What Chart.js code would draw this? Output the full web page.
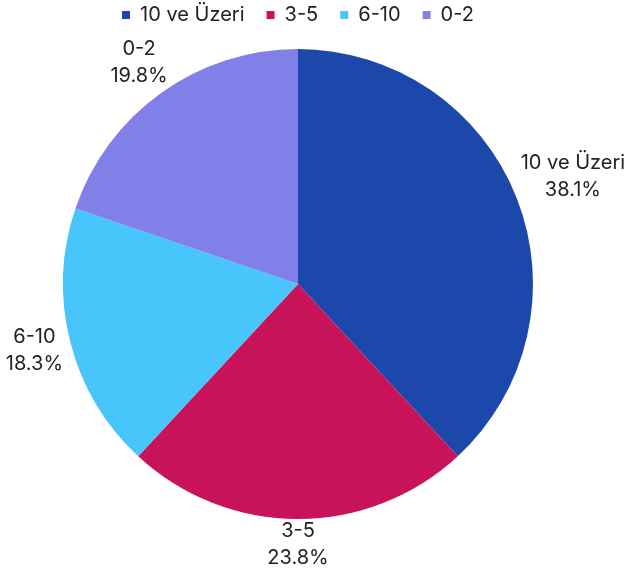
<!DOCTYPE html>
<html>
<head>
<meta charset="utf-8">
<script src="https://cdn.jsdelivr.net/npm/chart.js@4.4.0/dist/chart.umd.min.js"></script>
<style>
  html, body { margin: 0; padding: 0; background: #fff; }
  #wrap { width: 631px; height: 568px; }
</style>
</head>
<body>
<div id="wrap"><canvas id="pieChart" width="631" height="568"></canvas></div>
<script>
// Chart data
const categories = ['10 ve Üzeri', '3-5', '6-10', '0-2'];
const shares = [38.1, 23.8, 18.3, 19.8];
const sliceColors = ['#1B48AA', '#C8135A', '#48C6FC', '#8080E8'];

const FONT = 'Inter, "Noto Sans", sans-serif';
const FONT_SIZE = 20;
const TEXT_COLOR = '#222222';

// Fixed legend block height, and legend row moved up
const legendSpacer = {
    id: 'legendSpacer',
    beforeInit(chart) {
        const fit = chart.legend.fit;
        chart.legend.fit = function () {
            fit.bind(chart.legend)();
            this.height = 49;
        };
    },
    afterUpdate(chart) {
        chart.legend.top -= 17;
        chart.legend.bottom -= 17;
    }
};

// Outside labels: name + percentage, box touching the rim
const outsideLabels = {
    id: 'outsideLabels',
    afterDatasetsDraw(chart) {
        const ctx = chart.ctx;
        const meta = chart.getDatasetMeta(0);
        const lineH = 27;
        ctx.save();
        ctx.font = FONT_SIZE + 'px ' + FONT;
        ctx.fillStyle = TEXT_COLOR;
        ctx.textAlign = 'center';
        ctx.textBaseline = 'middle';
        meta.data.forEach((arc, i) => {
            const p = arc.getProps(['x', 'y', 'startAngle', 'endAngle', 'outerRadius'], true);
            const mid = (p.startAngle + p.endAngle) / 2;
            const dx = Math.cos(mid), dy = Math.sin(mid);
            const line1 = categories[i];
            const line2 = shares[i].toFixed(1) + '%';
            const w = Math.max(ctx.measureText(line1).width, ctx.measureText(line2).width);
            const h = lineH * 2 - 12;
            const d = p.outerRadius + 4 + Math.abs(dx) * w / 2 + Math.abs(dy) * h / 2;
            const cx = p.x + dx * d;
            const cy = p.y + dy * d;
            ctx.fillText(line1, cx, cy - lineH / 2);
            ctx.fillText(line2, cx, cy + lineH / 2);
        });
        ctx.restore();
    }
};

const ctx = document.getElementById('pieChart').getContext('2d');
new Chart(ctx, {
    type: 'pie',
    data: {
        labels: categories,
        datasets: [{
            data: shares,
            backgroundColor: sliceColors,
            borderWidth: 0
        }]
    },
    options: {
        responsive: false,
        animation: false,
        devicePixelRatio: 1,
        layout: { padding: { top: 0, bottom: 49, left: 63, right: 98 } },
        plugins: {
            legend: {
                position: 'top',
                labels: {
                    usePointStyle: true,
                    pointStyle: 'rect',
                    boxWidth: 8,
                    boxHeight: 8,
                    padding: 22,
                    color: TEXT_COLOR,
                    font: { family: FONT, size: FONT_SIZE }
                }
            },
            tooltip: { enabled: false }
        }
    },
    plugins: [legendSpacer, outsideLabels]
});
</script>
</body>
</html>
